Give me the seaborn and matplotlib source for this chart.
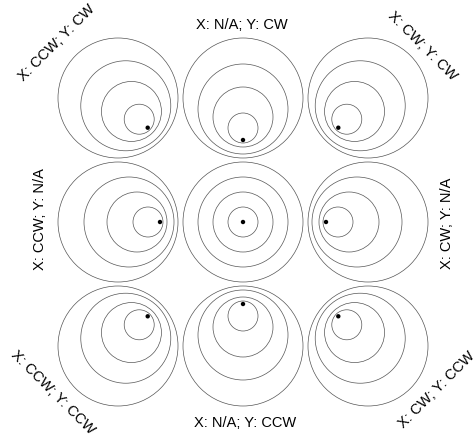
import numpy as np
import pandas as pd
import matplotlib
matplotlib.use('Agg')
import matplotlib.pyplot as plt
from matplotlib.patches import Circle
import seaborn as sns

# Grid of cells (pixel coordinates of outer circle centres)
col_x = [118, 243, 368]
row_y = [98, 222, 346]

# Direction of the shift for each cell (row, col) -> (dx, dy), y pointing down
dir_x = [[1, 0, -1], [1, 0, -1], [1, 0, -1]]
dir_y = [[1, 1, 1], [0, 0, 0], [-1, -1, -1]]

# Nested circles: radii and how far each one is shifted towards the dot
radii = [60, 45, 30, 15]
shifts = [0, 11, 19, 30]
dot_shift = 42

# Labels around the grid
label_text = ['X: CCW; Y: CW', 'X: N/A; Y: CW', 'X: CW; Y: CW',
              'X: CCW; Y: N/A', 'X: CW; Y: N/A',
              'X: CCW; Y: CCW', 'X: N/A; Y: CCW', 'X: CW; Y: CCW']
label_x = [57, 242, 422, 40, 447, 53, 245, 437]
label_y = [43, 25, 46, 219, 223, 392, 423, 390]
label_rot = [45, 0, -45, 90, 90, -45, 0, 45]

sns.set_style('white')
plt.rcParams['font.family'] = ['Liberation Sans', 'DejaVu Sans']

fig = plt.figure(figsize=(4.73, 4.37), dpi=100)
ax = fig.add_axes([0, 0, 1, 1])

dots = []
for r in range(3):
    for c in range(3):
        dx, dy = dir_x[r][c], dir_y[r][c]
        n = np.hypot(dx, dy)
        ux, uy = (dx / n, dy / n) if n else (0, 0)
        cx, cy = col_x[c], row_y[r]
        for rad, s in zip(radii, shifts):
            ax.add_patch(Circle((cx + ux * s, cy + uy * s), rad, fill=False,
                                edgecolor='#555555', linewidth=0.5))
        dots.append({'x': cx + ux * dot_shift, 'y': cy + uy * dot_shift})

dots = pd.DataFrame(dots)
sns.scatterplot(data=dots, x='x', y='y', ax=ax, color='black', s=10,
                edgecolor='none', legend=False)
ax.set_xlim(0, 473)
ax.set_ylim(437, 0)
ax.axis('off')

for t, x, y, rot in zip(label_text, label_x, label_y, label_rot):
    ax.text(x, y, t, rotation=rot, ha='center', va='center', fontsize=10.5,
            color='black', rotation_mode='anchor')

fig.savefig('out.png', dpi=100)
